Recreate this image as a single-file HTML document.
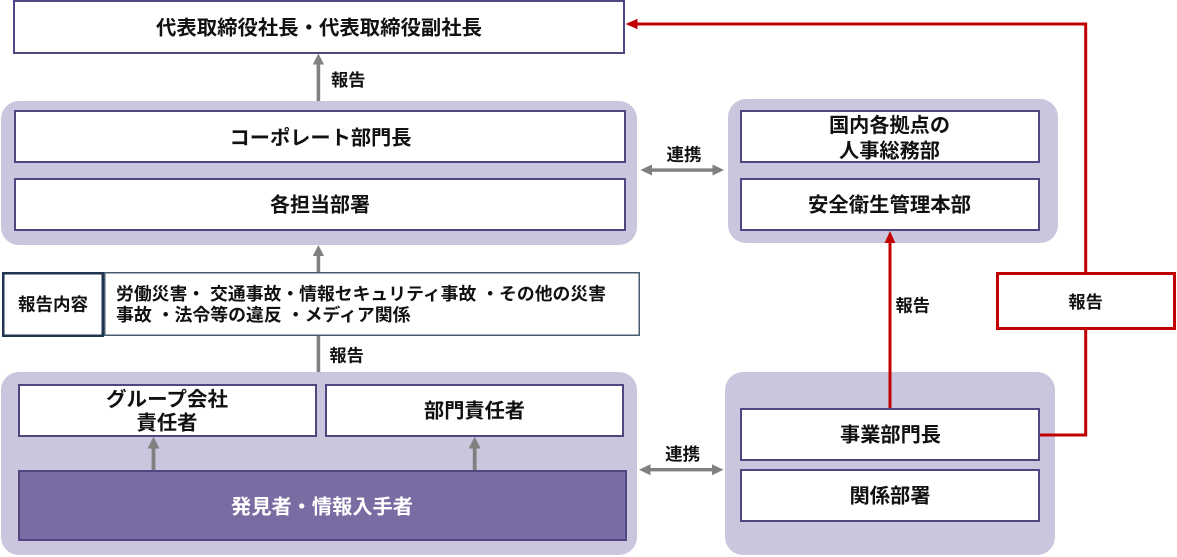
<!DOCTYPE html>
<html>
<head>
<meta charset="utf-8">
<style>
  html,body{margin:0;padding:0;background:#fff;}
  body{width:1177px;height:557px;overflow:hidden;}
  svg{display:block;}
  text{font-family:"Liberation Sans","Noto Sans CJK JP",sans-serif;font-weight:bold;fill:#111;}
</style>
</head>
<body>
<svg width="1177" height="557" viewBox="0 0 1177 557" xmlns="http://www.w3.org/2000/svg">
  <!-- containers -->
  <rect x="1" y="101" width="636" height="144" rx="18" ry="18" fill="#cbc6dd"/>
  <rect x="728" y="99" width="330" height="144" rx="18" ry="18" fill="#cbc6dd"/>
  <rect x="1" y="372" width="636" height="183" rx="18" ry="18" fill="#cbc6dd"/>
  <rect x="725" y="372" width="330" height="183" rx="18" ry="18" fill="#cbc6dd"/>

  <!-- gray connectors -->
  <g fill="#808080" stroke="none">
    <!-- top report arrow -->
    <rect x="316.6" y="63" width="3.6" height="38"/>
    <polygon points="318.4,53.5 312.8,64.5 324,64.5"/>
    <!-- middle report arrow -->
    <rect x="316.6" y="255" width="3.6" height="18"/>
    <polygon points="318.4,245 312.8,256 324,256"/>
    <!-- line from wide box to lower container -->
    <rect x="316.6" y="336" width="3.6" height="36"/>
    <!-- small up arrows -->
    <rect x="151.6" y="447" width="3.8" height="24"/>
    <polygon points="153.5,436.8 147.5,448.5 159.5,448.5"/>
    <rect x="472.8" y="447" width="3.8" height="24"/>
    <polygon points="474.7,436.8 468.7,448.5 480.7,448.5"/>
    <!-- 連携 upper -->
    <rect x="650" y="168.4" width="64" height="3.4"/>
    <polygon points="640.5,170 652,164.5 652,175.5"/>
    <polygon points="724,170 712.5,164.5 712.5,175.5"/>
    <!-- 連携 lower -->
    <rect x="649" y="468" width="64" height="3.4"/>
    <polygon points="639,469.7 650.5,464.2 650.5,475.2"/>
    <polygon points="723.5,469.7 712,464.2 712,475.2"/>
  </g>

  <!-- red connectors -->
  <path d="M1040 435 H1085.7 V24 H636" fill="none" stroke="#c00000" stroke-width="3" stroke-linejoin="miter"/>
  <polygon points="625.5,24 637.5,18.8 637.5,29.2" fill="#c00000"/>
  <rect x="888.5" y="241" width="3" height="168" fill="#c00000"/>
  <polygon points="890,231 884.6,243 895.4,243" fill="#c00000"/>

  <!-- red report box -->
  <rect x="997.5" y="273.5" width="177" height="55" fill="#fff" stroke="#c00000" stroke-width="3"/>

  <!-- white boxes -->
  <g fill="#fff" stroke="#4f4682" stroke-width="2">
    <rect x="14" y="1" width="610" height="52"/>
    <rect x="15" y="111" width="610" height="51"/>
    <rect x="15" y="179" width="610" height="51"/>
    <rect x="741" y="111" width="298" height="51"/>
    <rect x="741" y="179" width="298" height="51"/>
    <rect x="19" y="385" width="297" height="51"/>
    <rect x="326" y="385" width="297" height="51"/>
    <rect x="741" y="409" width="298" height="51"/>
    <rect x="741" y="470" width="298" height="51"/>
  </g>
  <rect x="19" y="471" width="607" height="69" fill="#7a6ca2" stroke="#4f4682" stroke-width="2"/>

  <!-- report content boxes -->
  <rect x="104.75" y="272.75" width="534.5" height="62.5" fill="#fff" stroke="#4a5a70" stroke-width="1.5"/>
  <rect x="3.25" y="273.25" width="99.5" height="62.5" fill="#fff" stroke="#1f3550" stroke-width="2.5"/>

  <!-- texts: boxes -->
  <text x="319" y="34.3" font-size="20" text-anchor="middle" textLength="326" lengthAdjust="spacingAndGlyphs">代表取締役社長・代表取締役副社長</text>
  <text x="320.5" y="144.3" font-size="20" text-anchor="middle" textLength="182" lengthAdjust="spacingAndGlyphs">コーポレート部門長</text>
  <text x="320" y="211.6" font-size="20" text-anchor="middle" textLength="100" lengthAdjust="spacingAndGlyphs">各担当部署</text>
  <text x="889.5" y="131.9" font-size="20" text-anchor="middle" textLength="121" lengthAdjust="spacingAndGlyphs">国内各拠点の</text>
  <text x="889.5" y="157.6" font-size="20" text-anchor="middle" textLength="101" lengthAdjust="spacingAndGlyphs">人事総務部</text>
  <text x="889.5" y="211.6" font-size="20" text-anchor="middle" textLength="163" lengthAdjust="spacingAndGlyphs">安全衛生管理本部</text>
  <text x="167" y="406.2" font-size="20" text-anchor="middle" textLength="122" lengthAdjust="spacingAndGlyphs">グループ会社</text>
  <text x="167" y="429.4" font-size="20" text-anchor="middle" textLength="61" lengthAdjust="spacingAndGlyphs">責任者</text>
  <text x="474.5" y="417.6" font-size="20" text-anchor="middle" textLength="101" lengthAdjust="spacingAndGlyphs">部門責任者</text>
  <text x="322" y="513.3" font-size="20" text-anchor="middle" textLength="182" lengthAdjust="spacingAndGlyphs" style="fill:#fff">発見者・情報入手者</text>
  <text x="890.5" y="441.6" font-size="20" text-anchor="middle" textLength="101" lengthAdjust="spacingAndGlyphs">事業部門長</text>
  <text x="890" y="502.6" font-size="20" text-anchor="middle" textLength="81" lengthAdjust="spacingAndGlyphs">関係部署</text>

  <!-- report content text -->
  <text x="53" y="310.6" font-size="17.5" text-anchor="middle" textLength="70" lengthAdjust="spacingAndGlyphs">報告内容</text>
  <text x="116" y="300" font-size="17.5" textLength="490" lengthAdjust="spacingAndGlyphs">労働災害・ 交通事故・情報セキュリティ事故 ・その他の災害</text>
  <text x="116" y="321" font-size="17.5" textLength="294.5" lengthAdjust="spacingAndGlyphs">事故 ・法令等の違反 ・メディア関係</text>

  <!-- connector labels -->
  <text x="348.3" y="85.8" font-size="17" text-anchor="middle" textLength="34.5" lengthAdjust="spacingAndGlyphs">報告</text>
  <text x="346.6" y="361.5" font-size="17" text-anchor="middle" textLength="34.5" lengthAdjust="spacingAndGlyphs">報告</text>
  <text x="684" y="160.4" font-size="17" text-anchor="middle" textLength="35" lengthAdjust="spacingAndGlyphs">連携</text>
  <text x="682.7" y="460" font-size="17" text-anchor="middle" textLength="35" lengthAdjust="spacingAndGlyphs">連携</text>
  <text x="912.8" y="311.5" font-size="17" text-anchor="middle" textLength="34.5" lengthAdjust="spacingAndGlyphs">報告</text>
  <text x="1085.7" y="308.2" font-size="17" text-anchor="middle" textLength="34.5" lengthAdjust="spacingAndGlyphs">報告</text>
</svg>
</body>
</html>
